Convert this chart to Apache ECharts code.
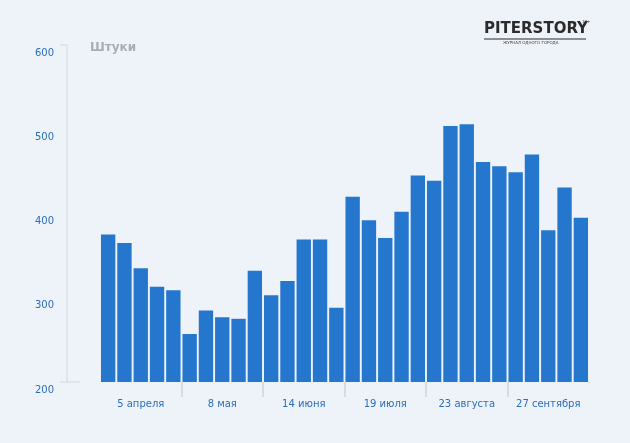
<!DOCTYPE html><html><head><meta charset="utf-8"><script src="https://cdn.jsdelivr.net/npm/echarts@6/dist/echarts.min.js"></script>
<style>html,body{margin:0;background:#eef2f9}#c{width:630px;height:443px}</style></head><body><div id="c"></div><script>
const groupLabels=['5 апреля','8 мая','14 июня','19 июля','23 августа','27 сентября'];
const values=[375,365,335,313,309,257,285,277,275,332,303,320,369,369,288,420,392,371,402,445,439,504,506,461,456,449,470,380,431,395];
const cats=values.map((v,i)=>i%5===2?groupLabels[Math.floor(i/5)]:'');
const chart=echarts.init(document.getElementById('c'));
chart.setOption({
 backgroundColor:'#eef2f9',animation:false,
 grid:{left:100,right:41,top:45,bottom:61},
 xAxis:{type:'category',data:cats,axisLine:{show:false},
  axisTick:{show:true,length:15,interval:(i)=>i%5===0&&i>0&&i<30,lineStyle:{color:'#cfd3da',width:1.5}},
  axisLabel:{interval:(i)=>i%5===2,color:'#2a6fbd',fontSize:10,margin:17,fontFamily:'DejaVu Sans'}},
 yAxis:{type:'value',min:200,max:600,interval:100,splitLine:{show:false},
  axisLine:{show:false},axisTick:{show:false},
  axisLabel:{color:'#2a6fbd',fontSize:10,margin:46,verticalAlign:'top',padding:[3,0,0,0],fontFamily:'DejaVu Sans'}},
 series:[{type:'bar',data:values,barCategoryGap:'12%',itemStyle:{color:'#2477cc'}}],
 graphic:[
  {type:'rect',shape:{x:587,y:383,width:6,height:16},style:{fill:'#eef2f9'},z:100},
  {type:'line',shape:{x1:67,y1:45,x2:67,y2:382},style:{stroke:'#d3d7de',lineWidth:1}},
  {type:'line',shape:{x1:60,y1:45,x2:67,y2:45},style:{stroke:'#d3d7de',lineWidth:1}},
  {type:'line',shape:{x1:60,y1:382,x2:80,y2:382},style:{stroke:'#d3d7de',lineWidth:1}},
  {type:'text',left:90,top:42,style:{text:'Штуки',fill:'#a9adb5',font:'bold 12px "DejaVu Sans"'}},
  {type:'text',left:484,top:22,style:{text:'PITERSTORY',fill:'#2b2b2b',font:'bold 15px "DejaVu Sans"'}},
  {type:'line',shape:{x1:484,y1:39,x2:586,y2:39},style:{stroke:'#2b2b2b',lineWidth:1}},
  {type:'text',left:503,top:41,style:{text:'ЖУРНАЛ ОДНОГО ГОРОДА',fill:'#444',font:'4px "DejaVu Sans"'}},
  {type:'text',left:582,top:20,style:{text:'18+',fill:'#444',font:'4px "DejaVu Sans"'}}
 ]
});
</script></body></html>
